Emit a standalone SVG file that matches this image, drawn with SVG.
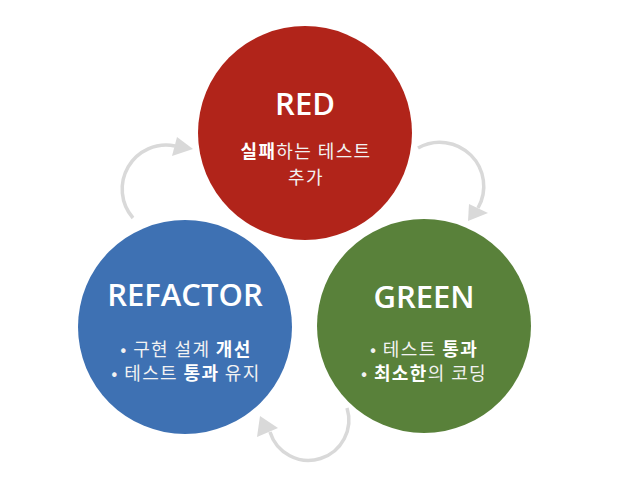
<svg xmlns="http://www.w3.org/2000/svg" width="626" height="492" viewBox="0 0 626 492">
<style>
.title{font-family:"Open Sans","Noto Sans",sans-serif;font-weight:600;font-size:31px;fill:#fff;text-anchor:middle}
.body{font-family:"Noto Sans CJK KR","Noto Sans",sans-serif;font-size:18px;letter-spacing:1.4px;fill:#f2f2f2;text-anchor:middle}
.b{font-weight:bold;fill:#fff}
.conn path{fill:none;stroke:#d9d9d9;stroke-width:3.5}
.conn polygon{fill:#d9d9d9}
</style>
<rect width="626" height="492" fill="#fff"/>
<g id="connectors" class="conn">
<path d="M133,218 A44,44 0 0 1 175,146"/>
<polygon points="193,149 177,137 172,156"/>
<path d="M418,148 A44,44 0 0 1 478,208"/>
<polygon points="468,221 469,204 488,213"/>
<path d="M347,408 A40,40 0 0 1 270,432"/>
<polygon points="260,416 257,437 278,428"/>
</g>
<g id="red">
<circle cx="305" cy="133" r="107" fill="#b1241a"/>
<text class="title" x="305" y="115">RED</text>
<text class="body" x="306" y="158"><tspan class="b">실패</tspan>하는 테스트</text>
<text class="body" x="306" y="184">추가</text>
</g>
<g id="refactor">
<circle cx="185" cy="327" r="107" fill="#3e71b3"/>
<text class="title" x="185" y="306">REFACTOR</text>
<text class="body" x="186" y="356">• 구현 설계 <tspan class="b">개선</tspan></text>
<text class="body" x="186" y="380">• 테스트 <tspan class="b">통과</tspan> 유지</text>
</g>
<g id="green">
<circle cx="424" cy="326" r="107" fill="#59813a"/>
<text class="title" x="424" y="308">GREEN</text>
<text class="body" x="424" y="356">• 테스트 <tspan class="b">통과</tspan></text>
<text class="body" x="424" y="380">• <tspan class="b">최소한</tspan>의 코딩</text>
</g>
</svg>
